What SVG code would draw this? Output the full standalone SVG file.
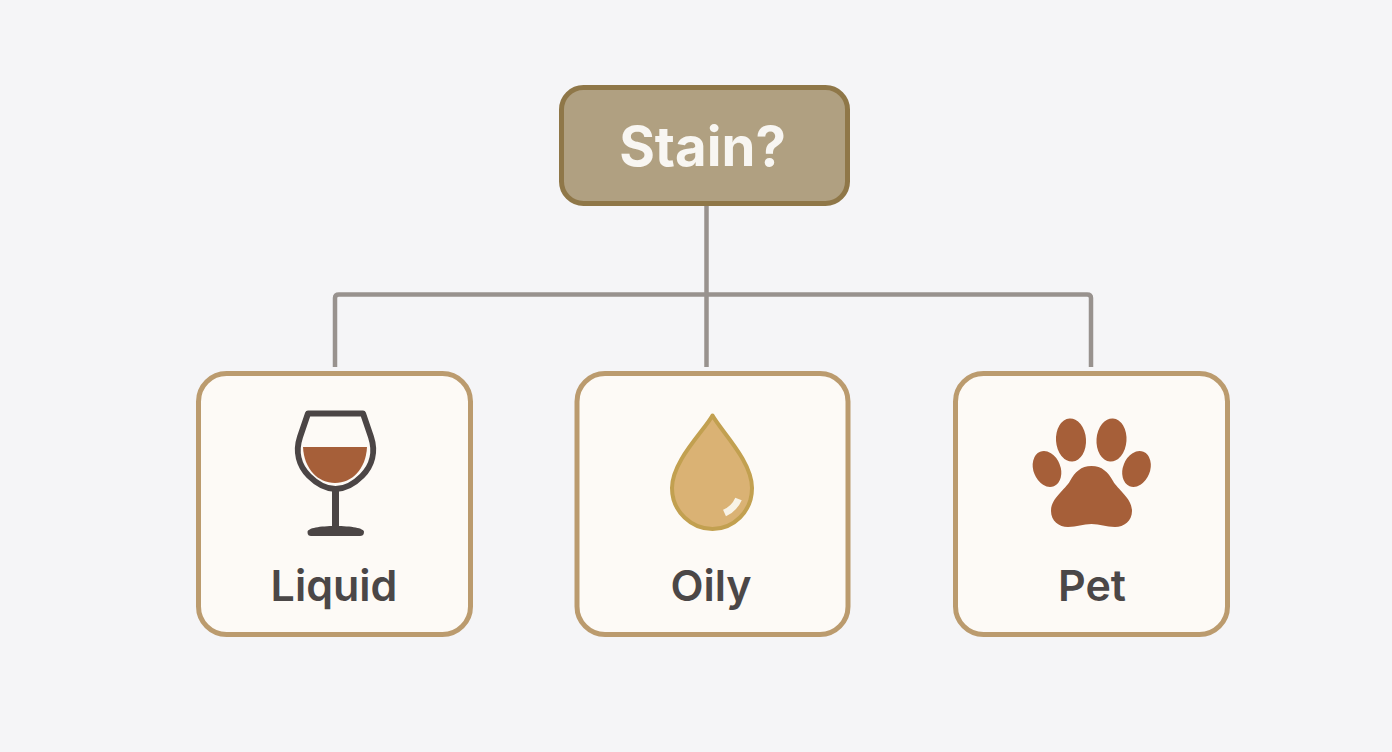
<svg xmlns="http://www.w3.org/2000/svg" width="1392" height="752" viewBox="0 0 1392 752">
<style>
.card{fill:#fdfaf6;stroke:#bb9b6e;stroke-width:5}
.conn{fill:none;stroke:#98928e;stroke-width:4.500;stroke-linejoin:round}
.lbl{font-family:"Inter","Noto Sans","Liberation Sans",sans-serif;font-weight:600;font-size:43px;fill:#4b4747;text-anchor:middle}
.paw{fill:#a65f39}
</style>
<rect width="1392" height="752" fill="#f5f5f7"/>
<g id="connectors">
<path class="conn" d="M706.500 205V367"/>
<path class="conn" d="M335 367V298Q335 294.500 339 294.500H1087Q1091 294.500 1091 298V367"/>
</g>
<g id="stain">
<rect x="561.500" y="87.500" width="286" height="116" rx="22" fill="#b0a081" stroke="#8f7748" stroke-width="5"/>
<text x="702.500" y="165.500" text-anchor="middle" font-family="Inter,'Noto Sans','Liberation Sans',sans-serif" font-weight="700" font-size="54.500" fill="#f8f6f2">Stain?</text>
</g>
<g id="liquid">
<rect class="card" x="198.500" y="373.500" width="272" height="261" rx="28"/>
<path d="M303 447H367C366 469 352 483 335 483C318 483 304 469 303 447Z" fill="#a65f39"/>
<path d="M308 413.500H363L371 437C376 452 372 466 362 476C354 484 345 489 335.500 489C326 489 317 484 309 476C299 466 295 452 300 437Z" fill="none" stroke="#4b4545" stroke-width="6" stroke-linejoin="round"/>
<path d="M335.500 489V528" fill="none" stroke="#4b4545" stroke-width="7"/>
<path d="M307.500 532C307.500 528 320 526 335.500 526C351 526 364 528 364 532C364 535 362 536 360 536H311C309 536 307.500 535 307.500 532Z" fill="#4b4545"/>
<text class="lbl" x="334" y="600.500">Liquid</text>
</g>
<g id="oily">
<rect class="card" x="577" y="373.500" width="271" height="261" rx="28"/>
<path d="M712.500 415.500C721 431 752 461 752 488C752 512 733 529 712.500 529C692 529 672 512 672 488C672 461 704 431 712.500 415.500Z" fill="#dab274" stroke="#c2a050" stroke-width="4" stroke-linejoin="round"/>
<path d="M738.500 499C736 505 731 510 724.500 513" fill="none" stroke="#f8f3e6" stroke-width="7"/>
<text class="lbl" x="711" y="600.500">Oily</text>
</g>
<g id="pet">
<rect class="card" x="955.500" y="373.500" width="272" height="261" rx="28"/>
<ellipse class="paw" cx="1071" cy="440" rx="15" ry="21.500" transform="rotate(-4 1071 440)"/>
<ellipse class="paw" cx="1111.500" cy="440" rx="15" ry="21.500" transform="rotate(4 1111.500 440)"/>
<ellipse class="paw" cx="1047" cy="469" rx="13.500" ry="18.500" transform="rotate(-22 1047 469)"/>
<ellipse class="paw" cx="1136.500" cy="469" rx="13.500" ry="18.500" transform="rotate(22 1136.500 469)"/>
<path class="paw" d="M1091.500 466C1102 466 1108 472 1113 481C1118 490 1132 498 1132 511C1132 521 1124 527 1115 527C1106 527 1100 524 1091.500 524C1083 524 1077 527 1068 527C1059 527 1051 521 1051 511C1051 498 1065 490 1070 481C1075 472 1081 466 1091.500 466Z"/>
<text class="lbl" x="1092" y="600.500">Pet</text>
</g>
</svg>
